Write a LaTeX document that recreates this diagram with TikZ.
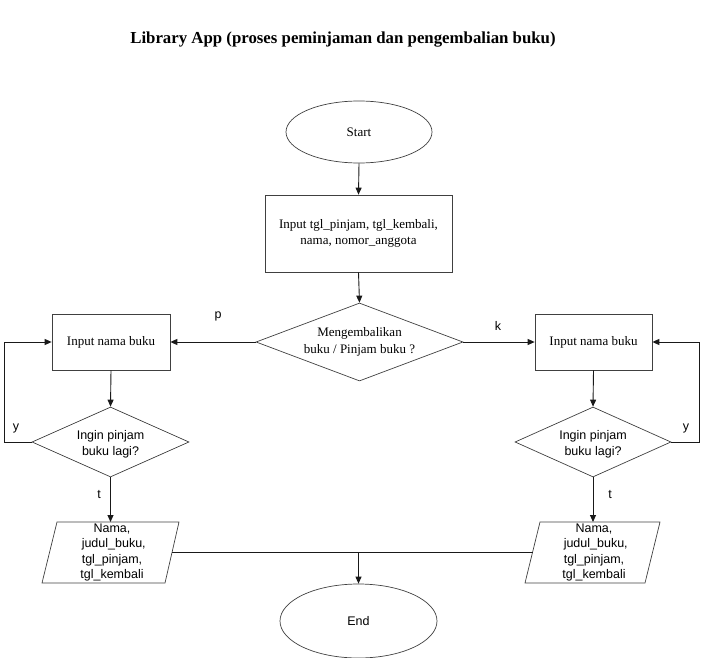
\documentclass[tikz,border=0pt]{standalone}
\usepackage{fontspec}
\setmainfont{Liberation Serif}
\setsansfont{Liberation Sans}
\usetikzlibrary{shapes.geometric,arrows.meta}
\begin{document}
\begin{tikzpicture}[x=1pt,y=-1pt,
  shapeline/.style={draw=black!75, line width=0.7pt},
  conn/.style={draw=black!90, line width=0.9pt},
  arr/.style={conn, -{Triangle[length=7pt,width=6pt]}},
  seriftext/.style={font=\fontsize{13}{16.5}\selectfont, align=center},
  sanstext/.style={font=\sffamily\fontsize{12.5}{16}\selectfont, align=center},
  terminal/.style={shapeline, ellipse, inner sep=0pt},
  procbox/.style={shapeline, rectangle, inner sep=0pt},
  decision/.style={shapeline, diamond, inner sep=0pt},
  iotext/.style={font=\sffamily\fontsize{12.5}{15.5}\selectfont, align=center},
  lbl/.style={font=\sffamily\fontsize{12.5}{14}\selectfont, inner sep=0pt}
]
\useasboundingbox (0,0) rectangle (704,658);

\node[font=\bfseries\fontsize{16.8}{20}\selectfont] (title) at (343,40) {Library App (proses peminjaman dan pengembalian buku)};

\node[terminal, minimum width=146pt, minimum height=62pt, seriftext] (start) at (359,132) {Start};
\node[procbox, minimum width=187pt, minimum height=77pt, seriftext] (in1) at (358.5,233.5) {Input tgl\_pinjam, tgl\_kembali,\\nama, nomor\_anggota};
\node[decision, minimum width=207pt, minimum height=78pt] (dec) at (359.5,342) {};
\node[seriftext] (dectext) at (359.5,342) {Mengembalikan\\buku / Pinjam buku ?};

% left branch
\node[procbox, minimum width=118pt, minimum height=56pt, seriftext] (lin) at (111,342) {Input nama buku};
\node[decision, minimum width=157pt, minimum height=70pt] (ldec) at (110.5,442) {};
\node[sanstext] (ldectext) at (110.5,444) {Ingin pinjam\\buku lagi?};
\coordinate (lTL) at (57,522);
\coordinate (lTR) at (179,522);
\coordinate (lBR) at (165,583);
\coordinate (lBL) at (42,583);
\draw[shapeline] (lTL) -- (lTR) -- (lBR) -- (lBL) -- cycle;
\coordinate (loutN) at (110.5,522);
\coordinate (loutE) at (172,552.5);
\node[iotext] (louttext) at (112,552.5) {Nama,\\\ judul\_buku,\\tgl\_pinjam,\\tgl\_kembali};

% right branch
\node[procbox, minimum width=117pt, minimum height=56pt, seriftext] (rin) at (593.5,342) {Input nama buku};
\node[decision, minimum width=156pt, minimum height=70pt] (rdec) at (593,442) {};
\node[sanstext] (rdectext) at (593,444) {Ingin pinjam\\buku lagi?};
\coordinate (rTL) at (540,522);
\coordinate (rTR) at (660,522);
\coordinate (rBR) at (645,583);
\coordinate (rBL) at (525,583);
\draw[shapeline] (rTL) -- (rTR) -- (rBR) -- (rBL) -- cycle;
\coordinate (routN) at (593,522);
\coordinate (routW) at (532.5,552.5);
\node[iotext] (routtext) at (594,552.5) {Nama,\\\ judul\_buku,\\tgl\_pinjam,\\tgl\_kembali};

\node[terminal, minimum width=157pt, minimum height=74pt, font=\sffamily\fontsize{12.5}{15}\selectfont] (end) at (358.5,621) {End};

% connectors
\draw[arr] (start.south) -- (in1.north);
\draw[arr] (in1.south) -- (dec.north);
\draw[arr] (dec.west) -- (lin.east);
\draw[arr] (dec.east) -- (rin.west);
\draw[arr] (lin.south) -- (ldec.north);
\draw[arr] (rin.south) -- (rdec.north);
\draw[arr] (ldec.south) -- (loutN);
\draw[arr] (rdec.south) -- (routN);
\coordinate (lloop) at (4,442);
\coordinate (rloop) at (699,442);
\draw[arr] (ldec.west) -- (lloop) -- (lloop |- lin.west) -- (lin.west);
\draw[arr] (rdec.east) -- (rloop) -- (rloop |- rin.east) -- (rin.east);
\coordinate (join) at (end.north |- loutE);
\draw[conn] (loutE) -- (join) -- (routW);
\draw[arr] (join) -- (end.north);

% labels
\node[lbl] (lp) at (218,316) {p};
\node[lbl] (lk) at (498,326) {k};
\node[lbl] (ly1) at (16,428) {y};
\node[lbl] (ly2) at (686,428) {y};
\node[lbl] (lt1) at (99,495) {t};
\node[lbl] (lt2) at (610,495) {t};
\end{tikzpicture}
\end{document}
